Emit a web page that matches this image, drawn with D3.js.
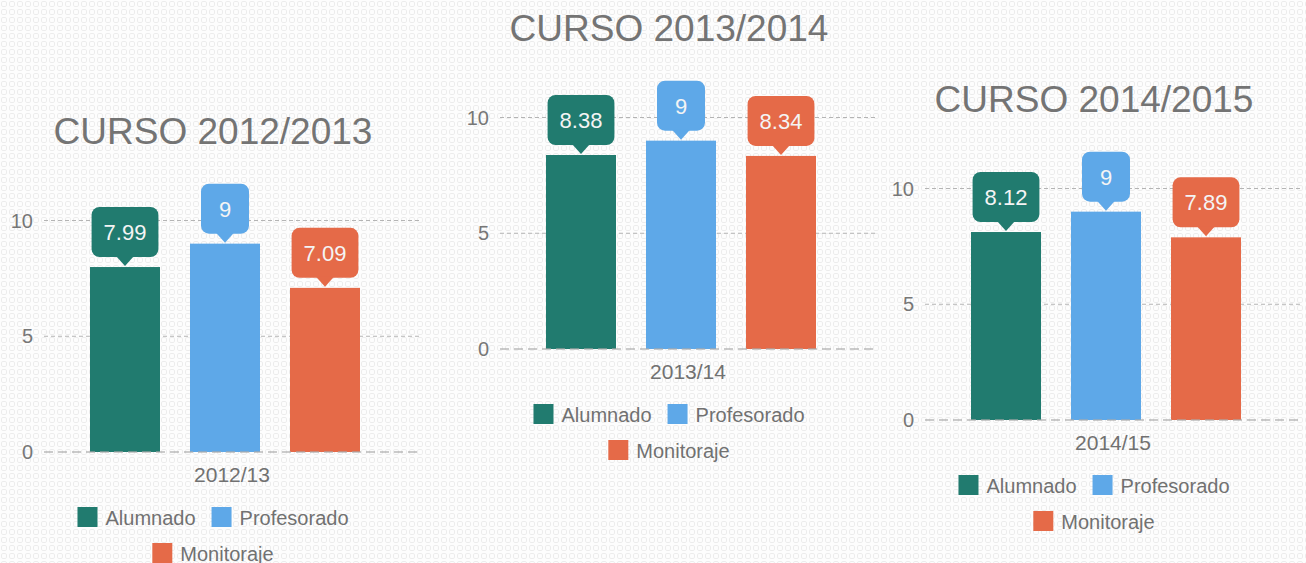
<!DOCTYPE html>
<html>
<head>
<meta charset="utf-8">
<script src="https://cdn.jsdelivr.net/npm/d3@7"></script>
<style>
  html, body { margin: 0; padding: 0; background: #fff; }
  svg { display: block; }
</style>
</head>
<body>
<div id="chart"></div>
<script>
// Data
const series = ["Alumnado", "Profesorado", "Monitoraje"];
const colors = ["#217b6f", "#5ea8e8", "#e56a48"];
const titles = ["CURSO 2012/2013", "CURSO 2013/2014", "CURSO 2014/2015"];
const categories = ["2012/13", "2013/14", "2014/15"];
const values2012 = [7.99, 9, 7.09];
const values2013 = [8.38, 9, 8.34];
const values2014 = [8.12, 9, 7.89];
const yTicks = [0, 5, 10];

const panelValues = [values2012, values2013, values2014];
// panel anchor: left edge of first bar, y of zero line
const panelOrigins = [[90, 452], [546, 349], [971, 420]];

const W = 1306, H = 563;
const font = "'Liberation Sans', Arial, sans-serif";
const textGray = "#717171";

const svg = d3.select("#chart")
    .append("svg")
    .attr("width", W)
    .attr("height", H);

// Dotted background pattern
const defs = svg.append("defs");
const pat = defs.append("pattern")
    .attr("id", "bgdots")
    .attr("width", 8)
    .attr("height", 8)
    .attr("patternUnits", "userSpaceOnUse");
pat.append("rect")
    .attr("x", 1.5).attr("y", 1.5)
    .attr("width", 5).attr("height", 5)
    .attr("rx", 1.5)
    .attr("fill", "none")
    .attr("stroke", "#ececec")
    .attr("stroke-width", 1);

svg.append("rect")
    .attr("width", W).attr("height", H)
    .attr("fill", "#fdfdfd");
svg.append("rect")
    .attr("width", W).attr("height", H)
    .attr("fill", "url(#bgdots)");

panelValues.forEach((values, p) => {
    const [ox, oy] = panelOrigins[p];
    drawPanel(svg.append("g"), values, titles[p], categories[p], ox, oy);
});

function drawPanel(g, values, title, category, ox, oy) {
    const cx = ox + 123; // centre of title and legend

    const x = d3.scaleBand()
        .domain(series)
        .range([ox, ox + 270])
        .paddingInner(0.3)
        .paddingOuter(0);

    const y = d3.scaleLinear()
        .domain([0, 10])
        .range([oy, oy - 231.5]);

    const gx0 = ox - 46, gx1 = ox + 330;

    // Title
    g.append("text")
        .attr("x", cx)
        .attr("y", oy - 308)
        .attr("text-anchor", "middle")
        .attr("font-family", font)
        .attr("font-size", "37px")
        .attr("fill", "#747474")
        .text(title);

    // Grid lines (non-zero)
    g.selectAll(".grid")
        .data(yTicks.filter(d => d !== 0))
        .join("line")
        .attr("x1", gx0).attr("x2", gx1)
        .attr("y1", d => y(d)).attr("y2", d => y(d))
        .attr("stroke", "#b4b4b4")
        .attr("stroke-width", 1)
        .attr("stroke-dasharray", "4,3");

    // Y tick labels
    g.selectAll(".ylab")
        .data(yTicks)
        .join("text")
        .attr("x", ox - 57)
        .attr("y", d => y(d))
        .attr("dy", "0.36em")
        .attr("text-anchor", "end")
        .attr("font-family", font)
        .attr("font-size", "20px")
        .attr("fill", "#777")
        .text(d => d);

    // Bars
    g.selectAll(".bar")
        .data(values)
        .join("rect")
        .attr("x", (d, i) => x(series[i]))
        .attr("y", d => y(d))
        .attr("width", x.bandwidth())
        .attr("height", d => y(0) - y(d))
        .attr("fill", (d, i) => colors[i]);

    // Zero line on top of bars
    g.append("line")
        .attr("x1", gx0).attr("x2", gx1)
        .attr("y1", y(0)).attr("y2", y(0))
        .attr("stroke", "#aaa")
        .attr("stroke-opacity", 0.8)
        .attr("stroke-width", 1.5)
        .attr("stroke-dasharray", "9,5");

    // Callouts
    values.forEach((v, i) => {
        const bx = x(series[i]) + x.bandwidth() / 2;
        const top = y(v);
        const c = g.append("g");
        const label = c.append("text")
            .attr("x", bx)
            .attr("text-anchor", "middle")
            .attr("font-family", font)
            .attr("font-size", "22px")
            .attr("fill", "#f4f4f4")
            .text(v);
        const tw = label.node().getComputedTextLength();
        const bw = Math.max(48, tw + 24), bh = 50;
        const boxBottom = top - 10;
        c.insert("rect", "text")
            .attr("x", bx - bw / 2)
            .attr("y", boxBottom - bh)
            .attr("width", bw)
            .attr("height", bh)
            .attr("rx", 8)
            .attr("fill", colors[i]);
        c.insert("path", "text")
            .attr("d", `M${bx - 9},${boxBottom - 1} L${bx + 9},${boxBottom - 1} L${bx},${top - 1} Z`)
            .attr("fill", colors[i]);
        label.attr("y", boxBottom - bh / 2).attr("dy", "0.36em");
    });

    // Category label
    g.append("text")
        .attr("x", (gx0 + gx1) / 2)
        .attr("y", oy + 30)
        .attr("text-anchor", "middle")
        .attr("font-family", font)
        .attr("font-size", "21px")
        .attr("fill", textGray)
        .text(category);

    // Legend: two rows
    const rows = [[0, 1], [2]];
    rows.forEach((row, r) => {
        const lg = g.append("g");
        let cur = 0;
        row.forEach((si, k) => {
            if (k > 0) cur += 16;
            lg.append("rect")
                .attr("x", cur)
                .attr("y", 0)
                .attr("width", 20)
                .attr("height", 20)
                .attr("fill", colors[si]);
            cur += 28;
            const t = lg.append("text")
                .attr("x", cur)
                .attr("y", 18)
                .attr("font-family", font)
                .attr("font-size", "20px")
                .attr("fill", textGray)
                .text(series[si]);
            cur += t.node().getComputedTextLength();
        });
        lg.attr("transform", `translate(${cx - cur / 2},${oy + 55 + r * 36})`);
    });
}
</script>
</body>
</html>
